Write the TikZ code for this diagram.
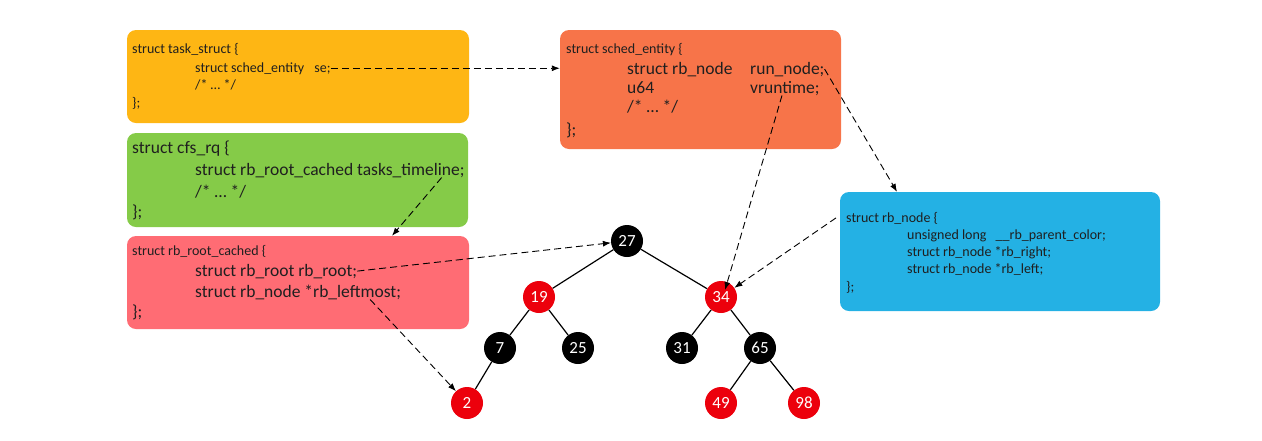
\documentclass[tikz,border=0pt]{standalone}
\usepackage{fontspec}
\setmainfont{Carlito}
\usepackage{xcolor}
\usetikzlibrary{arrows.meta}

\definecolor{taskcol}{RGB}{254,182,20}
\definecolor{schedcol}{RGB}{247,116,73}
\definecolor{cfscol}{RGB}{133,203,72}
\definecolor{rootcol}{RGB}{255,108,116}
\definecolor{rbnodecol}{RGB}{36,177,228}
\definecolor{treered}{RGB}{236,0,12}

\begin{document}
\begin{tikzpicture}[x=1pt, y=-1pt,
    structbox/.style={rounded corners=9pt, inner sep=0pt},
    small/.style={anchor=base west, inner sep=0pt, text=black!88, font=\fontsize{14}{16}\selectfont},
    big/.style={anchor=base west, inner sep=0pt, text=black!88, font=\fontsize{17.5}{20}\selectfont},
    rbn/.style={circle, minimum size=32pt, inner sep=0pt, text=white, font=\fontsize{17}{17}\selectfont},
    edge/.style={line width=1.2pt},
    ptr/.style={-{Latex[length=8pt,width=6pt]}, dash pattern=on 7pt off 4pt, line width=0.9pt}]
    \useasboundingbox (0,0) rectangle (1262,440);

    % task_struct
    \node[structbox, fill=taskcol, minimum width=342pt, minimum height=93pt] (task) at (298,76.5) {};
    \node[small] (t1) at (132,53) {struct task\_struct \{};
    \node[small] (tse) at (195,72) {struct sched\_entity\hspace{7pt} se;};
    \node[small] (t3) at (195,89) {/* \ldots{} */};
    \node[small] (t4) at (132,107) {\};};

    % sched_entity
    \node[structbox, fill=schedcol, minimum width=281pt, minimum height=119pt] (sched) at (700.5,89.5) {};
    \node[small] (s1) at (566,53) {struct sched\_entity \{};
    \node[big] (s2) at (627,74) {struct rb\_node};
    \node[big] (srun) at (750,74) {run\_node;};
    \node[big] (s3) at (627,93) {u64};
    \node[big] (svrt) at (750,93) {vruntime;};
    \node[big] (s4) at (627,112) {/* \ldots{} */};
    \node[big] (s5) at (566,135) {\};};

    % cfs_rq
    \node[structbox, fill=cfscol, minimum width=341pt, minimum height=94pt] (cfs) at (297.5,180) {};
    \node[big] (c1) at (132,153) {struct cfs\_rq \{};
    \node[big] (ctl) at (195,175) {struct rb\_root\_cached tasks\_timeline;};
    \node[big] (c3) at (195,197) {/* \ldots{} */};
    \node[big] (c4) at (132,217) {\};};

    % rb_root_cached
    \node[structbox, fill=rootcol, minimum width=342pt, minimum height=93pt] (rbrc) at (298,282.5) {};
    \node[small] (r1) at (132,255) {struct rb\_root\_cached \{};
    \node[big] (rroot) at (195,276) {struct rb\_root rb\_root;};
    \node[big] (rleft) at (195,297) {struct rb\_node *rb\_leftmost;};
    \node[big] (r4) at (132,317) {\};};

    % rb_node
    \node[structbox, fill=rbnodecol, minimum width=320pt, minimum height=119pt] (rbnode) at (1000,251.5) {};
    \node[small] (b1) at (846,222) {struct rb\_node \{};
    \node[small] (b2) at (907,239) {unsigned long\hspace{6pt} \_\_rb\_parent\_color;};
    \node[small] (b3) at (907,256) {struct rb\_node *rb\_right;};
    \node[small] (b4) at (907,273) {struct rb\_node *rb\_left;};
    \node[small] (b5) at (846,291) {\};};

    % red-black tree
    \foreach \v/\x/\y/\c in {27/627/241/black, 19/539/297/treered, 34/721/297/treered,
        7/500/348/black, 25/578/348/black, 31/682/348/black, 65/760/348/black,
        2/467/403/treered, 49/721/403/treered, 98/804/403/treered}
        \node[rbn, fill=\c] (n\v) at (\x,\y) {\v};
    \foreach \a/\b in {27/19, 27/34, 19/7, 19/25, 34/31, 34/65, 7/2, 65/49, 65/98}
        \draw[edge] (n\a) -- (n\b);

    % pointers
    \draw[ptr] (tse.east) -- (sched.west |- tse.east);
    \draw[ptr] ([xshift=-23pt]ctl.south east) -- ([xshift=94pt]rbrc.north);
    \draw[ptr] (rroot.east) -- (n27);
    \draw[ptr] ([xshift=-31pt]rleft.south east) -- (n2);
    \draw[ptr] ([xshift=32pt]svrt.south west) -- ([xshift=4pt,yshift=7pt]n34.center);
    \draw[ptr] (srun.east) -- ([xshift=-103pt]rbnode.north);
    \draw[ptr] ([xshift=-10pt]b1.west) -- (n34);
\end{tikzpicture}
\end{document}
